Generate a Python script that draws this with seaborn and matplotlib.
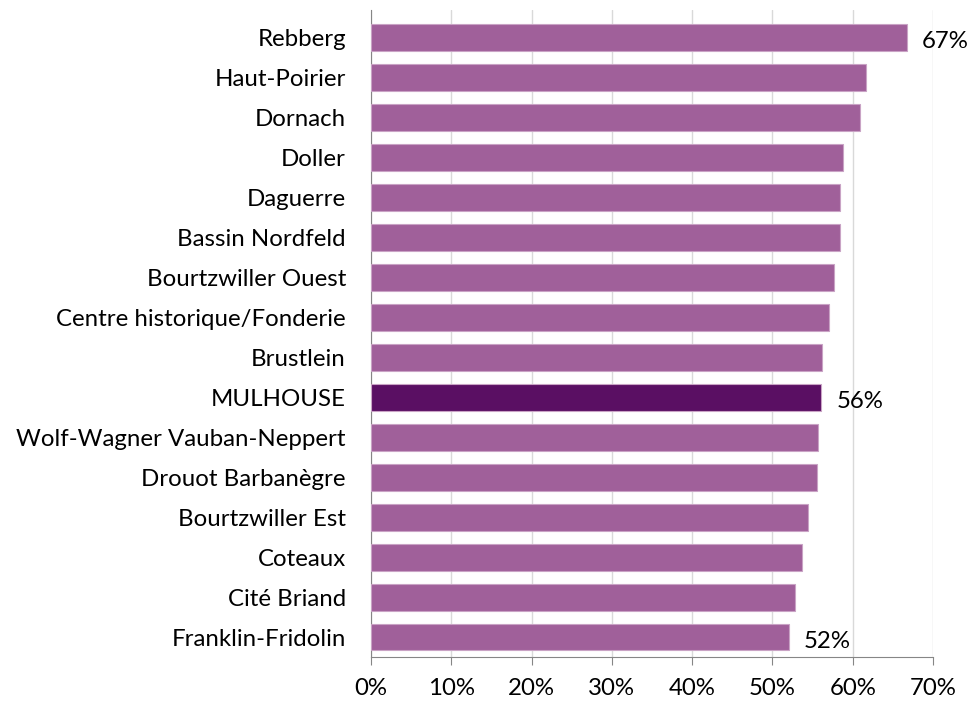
import matplotlib
matplotlib.use("Agg")
import matplotlib.pyplot as plt
import seaborn as sns
import pandas as pd
from matplotlib.ticker import PercentFormatter

# Data
quartiers = ["Rebberg", "Haut-Poirier", "Dornach", "Doller", "Daguerre",
             "Bassin Nordfeld", "Bourtzwiller Ouest", "Centre historique/Fonderie",
             "Brustlein", "MULHOUSE", "Wolf-Wagner Vauban-Neppert",
             "Drouot Barbanègre", "Bourtzwiller Est", "Coteaux", "Cité Briand",
             "Franklin-Fridolin"]
parts = [0.667, 0.616, 0.609, 0.588, 0.584, 0.584, 0.577, 0.570, 0.562,
         0.561, 0.557, 0.556, 0.544, 0.537, 0.528, 0.520]
labelled = ["Rebberg", "MULHOUSE", "Franklin-Fridolin"]

df = pd.DataFrame({"quartier": quartiers, "part": parts})

sns.set_style("white")
plt.rcParams["font.family"] = ["Lato", "DejaVu Sans"]
fs = 17.3

fig = plt.figure(figsize=(9.71, 7.02), dpi=100)
ax = fig.add_axes([0.382, 0.064, 0.579, 0.922])

colors = {q: ("#5A0F63" if q == "MULHOUSE" else "#A0609A") for q in quartiers}
sns.barplot(data=df, y="quartier", x="part", hue="quartier", palette=colors,
            legend=False, width=0.67, edgecolor="#C9A3C5", linewidth=0.8,
            saturation=1, ax=ax, zorder=3)

ax.set_xlim(0, 0.70)
ax.set_ylim(15.5, -0.7)
ax.set_xticks([i / 10 for i in range(8)])
ax.xaxis.set_major_formatter(PercentFormatter(1.0, decimals=0))
ax.set_xlabel("")
ax.set_ylabel("")
ax.grid(axis="x", color="#D9D9D9", linewidth=1, zorder=0)
ax.grid(axis="y", visible=False)

for s in ["top", "right"]:
    ax.spines[s].set_visible(False)
ax.spines["left"].set_color("#868686")
ax.spines["bottom"].set_color("#868686")
ax.tick_params(axis="x", direction="out", length=6, color="#868686",
               labelsize=fs, labelcolor="black", pad=9, bottom=True)
ax.tick_params(axis="y", length=0, labelsize=fs, labelcolor="black", pad=18)

for i, (q, v) in enumerate(zip(quartiers, parts)):
    if q in labelled:
        ax.text(v + 0.0185, i + 0.1, f"{round(v * 100):.0f}%", va="center",
                ha="left", fontsize=fs, color="black")

fig.savefig("out.png", dpi=100)
